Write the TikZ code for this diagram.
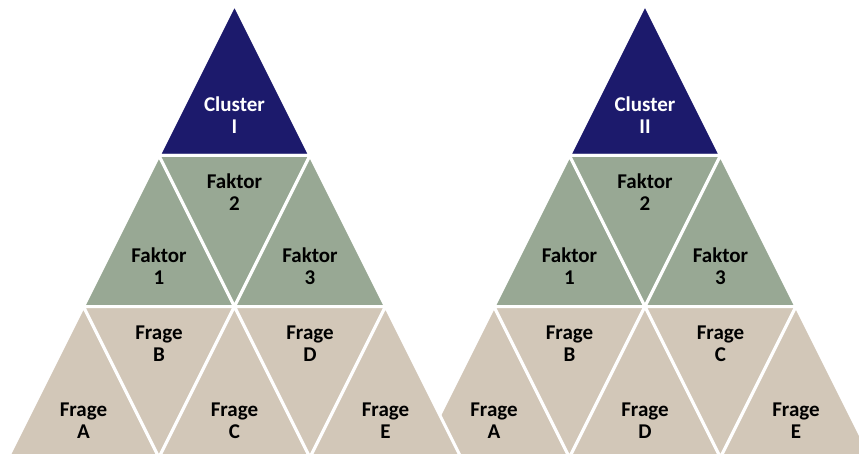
\documentclass[tikz,border=0pt]{standalone}
\usepackage{fontspec}
\setmainfont{Carlito}
\definecolor{navyc}{RGB}{28,26,108}
\definecolor{sagec}{RGB}{152,168,148}
\definecolor{tanc}{RGB}{210,199,184}
\newcommand\uptri[3]{\filldraw[tri,fill=#3] (#1,#2) -- ++(-75.5,151) -- ++(151,0) -- cycle;}
\newcommand\dntri[3]{\filldraw[tri,fill=#3] (#1,#2) ++(-75.5,0) -- ++(151,0) -- ++(-75.5,151) -- cycle;}
\tikzset{
  tri/.style={draw=white,line width=3pt,line join=miter},
  lbl/.style={align=center,font=\fontsize{21}{22}\selectfont\bfseries,text=black,inner sep=0pt},
  wlbl/.style={lbl,text=white}
}
\begin{document}
\begin{tikzpicture}[x=1pt,y=-1pt]
\useasboundingbox (0,0) rectangle (859,454);
\clip (0,0) rectangle (859,454);
% right pyramid (drawn first)
\uptri{645}{4.5}{navyc}
\uptri{569.5}{155.5}{sagec}
\dntri{645}{155.5}{sagec}
\uptri{720.5}{155.5}{sagec}
\uptri{494}{306.5}{tanc}
\dntri{569.5}{306.5}{tanc}
\uptri{645}{306.5}{tanc}
\dntri{720.5}{306.5}{tanc}
\uptri{796}{306.5}{tanc}
% left pyramid
\uptri{234.5}{4.5}{navyc}
\uptri{159}{155.5}{sagec}
\dntri{234.5}{155.5}{sagec}
\uptri{310}{155.5}{sagec}
\uptri{83.5}{306.5}{tanc}
\dntri{159}{306.5}{tanc}
\uptri{234.5}{306.5}{tanc}
\dntri{310}{306.5}{tanc}
\uptri{385.5}{306.5}{tanc}
% labels left
\node[wlbl] (c1) at (234.5,115.5) {Cluster\\I};
\node[lbl] (l2) at (234.5,192.5) {Faktor\\2};
\node[lbl] (l1) at (159,266.5) {Faktor\\1};
\node[lbl] (l3) at (310,266.5) {Faktor\\3};
\node[lbl] (lb) at (159,343.5) {Frage\\B};
\node[lbl] (ld) at (310,343.5) {Frage\\D};
\node[lbl] (la) at (83.5,420.5) {Frage\\A};
\node[lbl] (lc) at (234.5,420.5) {Frage\\C};
\node[lbl] (le) at (385.5,420.5) {Frage\\E};
% labels right
\node[wlbl] (c2) at (645,115.5) {Cluster\\II};
\node[lbl] (r2) at (645,192.5) {Faktor\\2};
\node[lbl] (r1) at (569.5,266.5) {Faktor\\1};
\node[lbl] (r3) at (720.5,266.5) {Faktor\\3};
\node[lbl] (rb) at (569.5,343.5) {Frage\\B};
\node[lbl] (rc) at (720.5,343.5) {Frage\\C};
\node[lbl] (ra) at (494,420.5) {Frage\\A};
\node[lbl] (rd) at (645,420.5) {Frage\\D};
\node[lbl] (re) at (796,420.5) {Frage\\E};
\end{tikzpicture}
\end{document}
